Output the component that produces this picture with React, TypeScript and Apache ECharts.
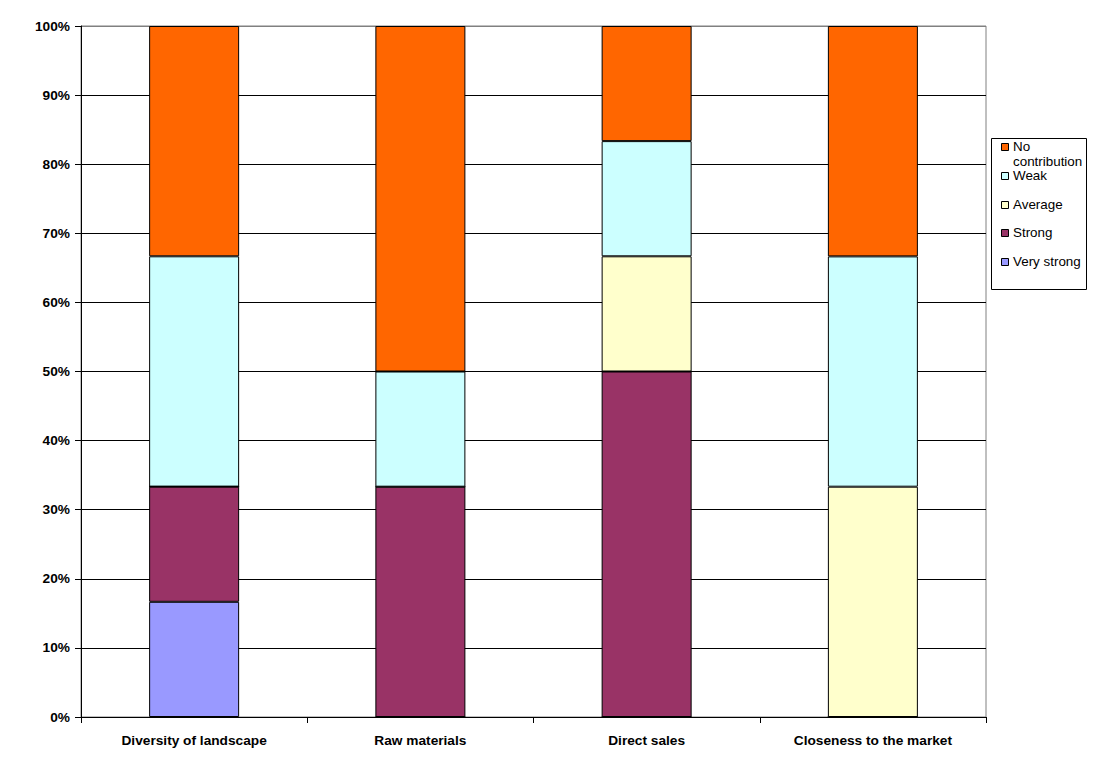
import { useEffect, useRef } from 'react';
import * as echarts from 'echarts';

const categories = ['Diversity of landscape', 'Raw materials', 'Direct sales', 'Closeness to the market'];
const seriesNames = ['Very strong', 'Strong', 'Average', 'Weak', 'No contribution'];
const seriesColors = ['#9999FF', '#993366', '#FFFFCC', '#CCFFFF', '#FF6600'];
const veryStrong = [16.67, 0, 0, 0];
const strong = [16.67, 33.33, 50, 0];
const average = [0, 0, 16.67, 33.33];
const weak = [33.33, 16.67, 16.67, 33.33];
const noContribution = [33.33, 50, 16.66, 33.34];
const seriesValues = [veryStrong, strong, average, weak, noContribution];
const legendLabels = ['No\ncontribution', 'Weak', 'Average', 'Strong', 'Very strong'];

export default function App() {
  const chartRef = useRef<HTMLDivElement>(null);

  useEffect(() => {
    if (!chartRef.current) return;
    document.body.style.margin = '0';
    const chart = echarts.init(chartRef.current, null, { renderer: 'svg' });

    const font = 'Arial, "Liberation Sans", sans-serif';
    const splitColors = Array.from({ length: 11 }, (_, i) => (i === 10 ? '#808080' : '#000000'));

    // legend drawn as graphic: top-down order is reverse of stack order
    const legendItems: any[] = [];
    const rowY = [147, 176, 205, 233, 262];
    legendLabels.forEach((label, i) => {
      const si = seriesNames.length - 1 - i;
      legendItems.push({
        type: 'rect',
        shape: { x: 1001.5, y: rowY[i] - 3.5, width: 7, height: 7 },
        style: { fill: seriesColors[si], stroke: '#000', lineWidth: 1 },
      });
      legendItems.push({
        type: 'text',
        x: 1013,
        y: rowY[i] - 8,
        style: {
          text: label,
          font: `13.4px ${font}`,
          fill: '#000',
          lineHeight: 15,
          textVerticalAlign: 'top',
        },
      });
    });

    const option: echarts.EChartsOption = {
      animation: false,
      backgroundColor: '#fff',
      grid: {
        left: 81,
        right: 107,
        top: 26,
        bottom: 50,
        show: true,
        borderColor: '#808080',
        borderWidth: 1,
      },
      xAxis: {
        type: 'category',
        data: categories,
        axisLine: { lineStyle: { color: '#000', width: 1 } },
        axisTick: { show: true, length: 6, lineStyle: { color: '#000' } },
        axisLabel: {
          color: '#000',
          fontWeight: 'bold',
          fontSize: 13.7,
          fontFamily: font,
          margin: 16,
        },
      },
      yAxis: {
        type: 'value',
        min: 0,
        max: 100,
        interval: 10,
        axisLine: { show: true, lineStyle: { color: '#000', width: 1 } },
        axisTick: { show: true, length: 6, lineStyle: { color: '#000' } },
        axisLabel: {
          color: '#000',
          fontWeight: 'bold',
          fontSize: 13.7,
          fontFamily: font,
          margin: 11,
          formatter: '{value}%',
        },
        splitLine: { show: true, lineStyle: { color: splitColors, width: 1 } },
      },
      series: seriesNames.map((name, i) => ({
        name,
        type: 'bar',
        stack: 'total',
        barWidth: 90,
        data: seriesValues[i],
        itemStyle: { color: seriesColors[i], borderColor: '#000', borderWidth: 1 },
      })),
      graphic: [
        {
          type: 'rect',
          shape: { x: 991.5, y: 138.5, width: 95, height: 151 },
          style: { fill: '#fff', stroke: '#000', lineWidth: 1 },
        },
        ...legendItems,
      ],
    };

    chart.setOption(option);
    return () => chart.dispose();
  }, []);

  return <div ref={chartRef} style={{ width: 1093, height: 767 }} />;
}
